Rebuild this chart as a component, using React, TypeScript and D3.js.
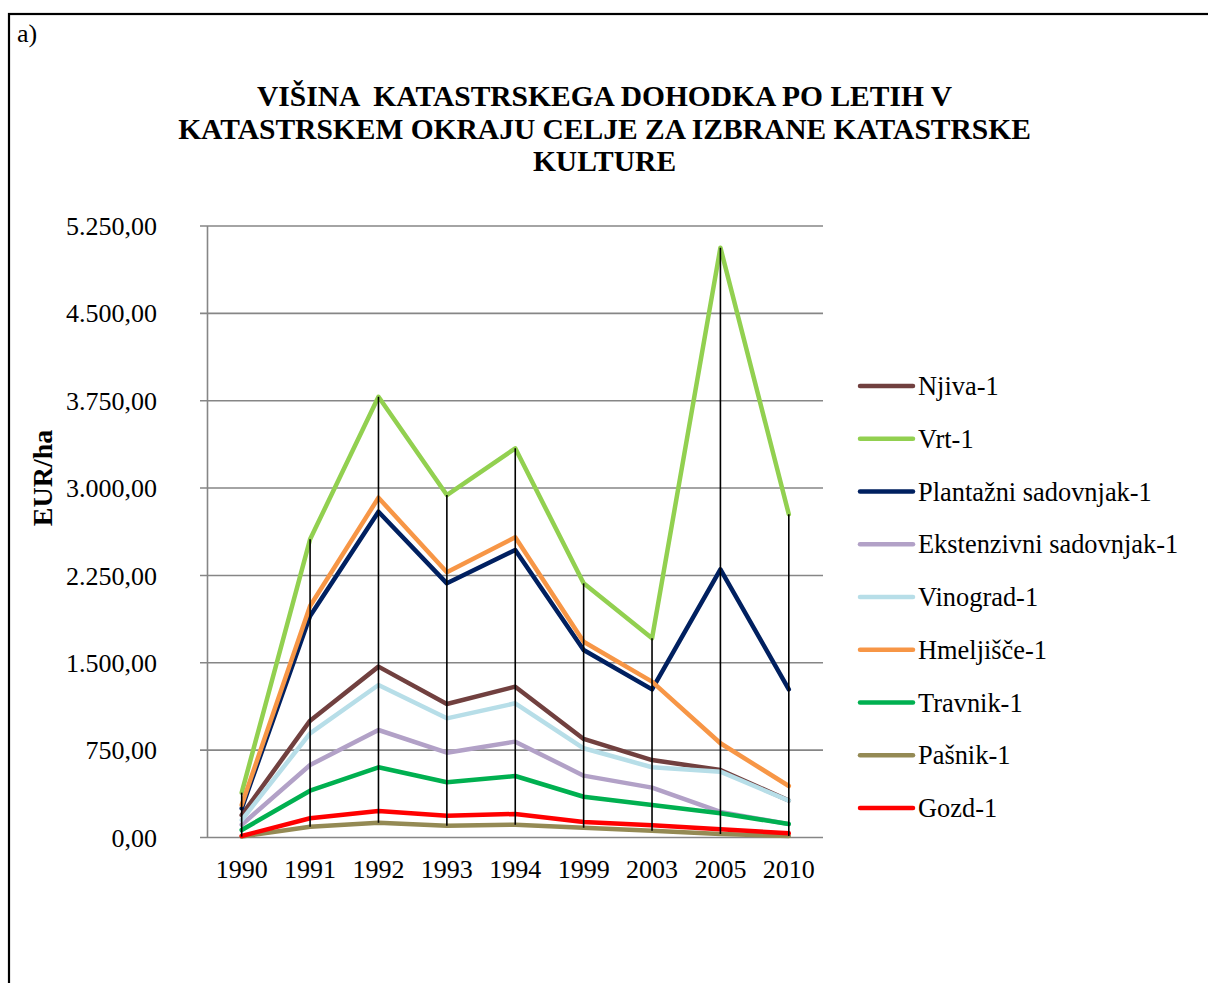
import React from "react";
import * as d3 from "d3";

// Categories (years) on the horizontal axis
const years = ["1990", "1991", "1992", "1993", "1994", "1999", "2003", "2005", "2010"];

// Cadastral income (EUR/ha) per culture, one array per series
const njiva = [193, 1003, 1467, 1146, 1295, 846, 665, 580, 318];
const vrt = [385, 2560, 3784, 2940, 3341, 2182, 1710, 5064, 2775];
const plantazni = [250, 1902, 2797, 2182, 2468, 1610, 1272, 2302, 1272];
const ekstenzivni = [110, 622, 923, 728, 823, 531, 428, 220, 115];
const vinograd = [150, 894, 1309, 1023, 1152, 766, 603, 565, 316];
const hmeljisce = [279, 1987, 2917, 2277, 2577, 1681, 1338, 809, 442];
const travnik = [64, 402, 603, 474, 528, 350, 279, 208, 116];
const pasnik = [8, 93, 127, 101, 110, 84, 58, 30, 13];
const gozd = [13, 165, 228, 187, 202, 133, 105, 70, 36];

const seriesNames = [
  "Njiva-1",
  "Vrt-1",
  "Plantažni sadovnjak-1",
  "Ekstenzivni sadovnjak-1",
  "Vinograd-1",
  "Hmeljišče-1",
  "Travnik-1",
  "Pašnik-1",
  "Gozd-1",
];
const seriesValues = [njiva, vrt, plantazni, ekstenzivni, vinograd, hmeljisce, travnik, pasnik, gozd];
const seriesColors = ["#71403F", "#92D050", "#002060", "#B2A1C7", "#B7DEE8", "#F79646", "#00B050", "#948A54", "#FF0000"];

const yTicks = [0, 750, 1500, 2250, 3000, 3750, 4500, 5250];

const titleLines = [
  "VIŠINA  KATASTRSKEGA DOHODKA PO LETIH V",
  "KATASTRSKEM OKRAJU CELJE ZA IZBRANE KATASTRSKE",
  "KULTURE",
];

const W = 1208;
const H = 983;
const FONT = "'Liberation Serif', 'Times New Roman', serif";

const slLocale = d3.formatLocale({ decimal: ",", thousands: ".", grouping: [3], currency: ["", " €"] });
const fmt = slLocale.format(",.2f");

export default function App() {
  const plotLeft = 207.5;
  const plotRight = 823;
  const plotTop = 226;
  const plotBottom = 837.5;

  const x = d3.scalePoint<string>().domain(years).range([plotLeft, plotRight]).padding(0.5);
  const y = d3.scaleLinear().domain([0, 5250]).range([plotBottom, plotTop]);

  const line = d3
    .line<number>()
    .x((_, i) => x(years[i]) as number)
    .y((d) => y(d));

  const highLow = years.map((yr, i) => {
    const vals = seriesValues.map((s) => s[i]);
    return { yr, hi: d3.max(vals) as number, lo: d3.min(vals) as number };
  });

  const gridColor = "#868686";

  return (
    <svg
      width={W}
      height={H}
      style={{ position: "absolute", left: 0, top: 0, background: "#fff" }}
      fontFamily={FONT}
    >
      <rect x={0} y={0} width={W} height={H} fill="#fff" />
      {/* outer frame */}
      <rect x={9} y={14} width={1400} height={1200} fill="none" stroke="#000" strokeWidth={2.2} />
      <text x={17} y={42} fontSize={26} fill="#000">
        a)
      </text>

      {/* title */}
      {titleLines.map((t, i) => (
        <text
          key={t}
          x={604.5}
          y={106 + i * 32.5}
          textAnchor="middle"
          fontSize={29.5}
          fontWeight="bold"
          fill="#000"
          style={{ whiteSpace: "pre" }}
        >
          {t}
        </text>
      ))}

      {/* horizontal gridlines and y tick labels */}
      {yTicks.map((t) => (
        <g key={t}>
          <line x1={200} x2={plotRight} y1={y(t)} y2={y(t)} stroke={gridColor} strokeWidth={1.6} />
          <text x={157} y={y(t)} dy="0.35em" textAnchor="end" fontSize={26} fill="#000">
            {fmt(t)}
          </text>
        </g>
      ))}
      {/* value axis */}
      <line x1={plotLeft} x2={plotLeft} y1={plotTop} y2={plotBottom} stroke={gridColor} strokeWidth={1.6} />

      {/* category labels */}
      {years.map((yr) => (
        <text key={yr} x={x(yr)} y={878} textAnchor="middle" fontSize={26} fill="#000">
          {yr}
        </text>
      ))}

      {/* axis title */}
      <text
        transform={`translate(52,478) rotate(-90)`}
        textAnchor="middle"
        fontSize={28}
        fontWeight="bold"
        fill="#000"
      >
        EUR/ha
      </text>

      {/* series lines */}
      {seriesValues.map((vals, i) => (
        <path
          key={seriesNames[i]}
          d={line(vals) as string}
          fill="none"
          stroke={seriesColors[i]}
          strokeWidth={4.5}
          strokeLinejoin="round"
          strokeLinecap="round"
        />
      ))}

      {/* high-low lines */}
      {highLow.map((h) => (
        <line
          key={h.yr}
          x1={x(h.yr)}
          x2={x(h.yr)}
          y1={y(h.hi)}
          y2={y(h.lo)}
          stroke="#000"
          strokeWidth={1.6}
        />
      ))}

      {/* legend */}
      {seriesNames.map((name, i) => {
        const ly = 386 + i * 52.75;
        return (
          <g key={name}>
            <line
              x1={860}
              x2={913}
              y1={ly}
              y2={ly}
              stroke={seriesColors[i]}
              strokeWidth={4.5}
              strokeLinecap="round"
            />
            <text x={918} y={ly} dy="0.35em" fontSize={26.4} fill="#000">
              {name}
            </text>
          </g>
        );
      })}
    </svg>
  );
}
